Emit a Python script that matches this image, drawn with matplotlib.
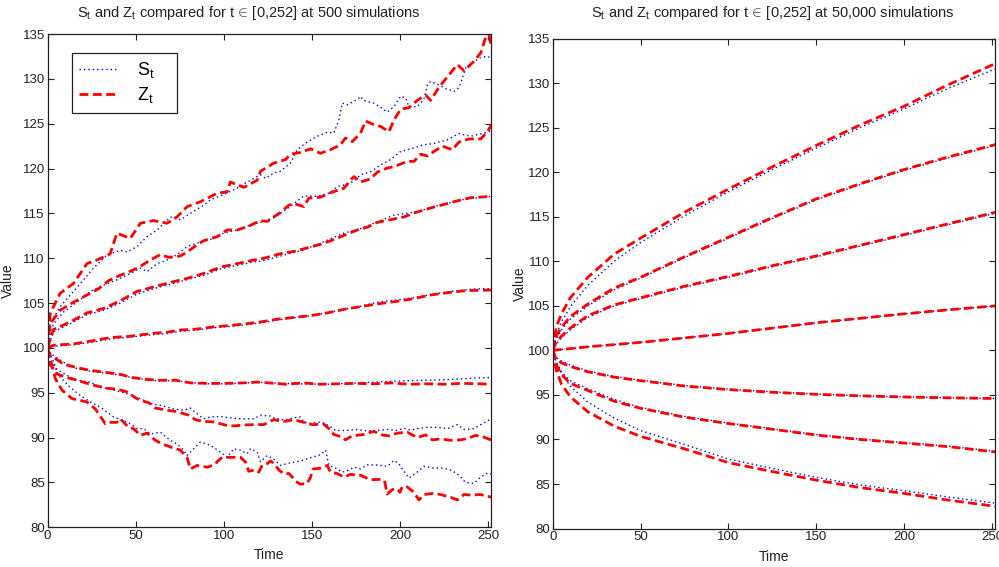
import matplotlib
matplotlib.use("Agg")
import matplotlib.pyplot as plt
import numpy as np
from matplotlib.lines import Line2D

plt.rcParams['font.family'] = ['Liberation Sans', 'DejaVu Sans']
plt.rcParams['mathtext.fontset'] = 'custom'
plt.rcParams['mathtext.rm'] = 'Liberation Sans'
plt.rcParams['mathtext.it'] = 'Liberation Sans'

# ---------------- Left panel: 500 simulations ----------------
s1_t = [0, 1.5, 7.2, 13.9, 20.5, 26.1, 33.7, 41.3, 45.1, 50.8, 56.5, 62.2, 69.7, 75.4, 81.1, 88.6, 92.4, 100, 107.6, 113.3, 120.9, 123.7, 128.4, 132.2, 137.9, 141.7, 147.4, 153.1, 158.8, 162.5, 165.4, 167.3, 170.1, 175.8, 177.7, 179.5, 185.2, 190, 192.8, 196.6, 200.4, 203.2, 205.1, 209.9, 213.6, 215.6, 217.4, 221.3, 226, 230.7, 233.5, 235.5, 237.3, 242, 245.9, 249.7, 252]
s1_v = [100, 102.7, 104.6, 106.1, 107.6, 108.9, 110.35, 110.9, 110.7, 111.3, 112.4, 113.15, 114.6, 114.3, 115.0, 115.9, 116.5, 117.1, 117.8, 118.5, 119.3, 118.9, 119.5, 119.7, 120.6, 122.1, 122.95, 123.6, 124.05, 123.95, 125.4, 127.3, 127.1, 127.7, 128.05, 127.6, 127.3, 126.7, 126.3, 126.9, 128.05, 127.9, 126.9, 126.9, 127.7, 129.3, 129.7, 129.4, 128.9, 128.6, 129.0, 130.1, 131.2, 131.9, 132.4, 132.5, 132.3]
z1_t = [0, 1.5, 3.4, 7.2, 14.8, 22.4, 28.1, 35.6, 39.4, 47, 52.7, 60.2, 67.8, 73.5, 79.2, 86.8, 96.3, 101.9, 103.8, 111.4, 119, 120.9, 128.4, 135.1, 137.9, 143.6, 149.3, 154.9, 160.6, 166.3, 169.1, 173, 177.7, 180.5, 185.2, 189, 193.8, 196.6, 200.4, 205.1, 209.9, 214.6, 217.4, 222.2, 226.9, 232.6, 236.4, 242, 245.9, 248.7, 250.6, 252]
z1_v = [100, 103.8, 104.6, 106.1, 107.2, 109.4, 109.8, 110.5, 112.8, 112.2, 113.9, 114.2, 113.9, 114.6, 115.75, 116.3, 117.25, 117.4, 118.5, 117.9, 118.7, 119.7, 120.6, 121.0, 121.6, 121.8, 122.2, 121.7, 122.1, 122.65, 123.4, 123.0, 123.95, 125.3, 124.9, 124.7, 124.1, 125.4, 126.6, 126.8, 127.6, 128.2, 127.6, 129.05, 130.2, 131.6, 130.9, 131.95, 132.9, 134.6, 134.9, 133.6]

s2_t = [0, 3.4, 9.1, 16.7, 24.3, 31.8, 39.4, 47, 52.7, 56.5, 62.2, 67.8, 73.5, 79.2, 86.8, 94.3, 100, 107.6, 115.2, 122.7, 129.4, 137.9, 145.5, 153.1, 160.6, 164.4, 167.3, 173.9, 177.7, 183.4, 189, 194.7, 200.4, 208, 213.6, 219.3, 226.9, 233.5, 240.2, 247.7, 252]
s2_v = [100, 102.7, 104.0, 105.1, 106.3, 107.0, 107.6, 108.3, 108.9, 108.5, 109.4, 109.8, 110.4, 111.3, 111.8, 112.2, 112.8, 113.15, 113.7, 114.1, 114.6, 115.8, 116.95, 116.9, 117.3, 118.0, 118.1, 118.6, 119.3, 119.65, 120.4, 121.0, 121.9, 122.3, 122.65, 122.8, 123.2, 123.9, 123.6, 123.95, 124.2]
z2_t = [0, 1.5, 7.2, 14.8, 22.4, 29, 34.7, 41.3, 48.9, 52.7, 58.4, 64, 68.8, 75.4, 79.2, 84.9, 88.6, 96.3, 101.9, 107.6, 113.3, 120.9, 124.7, 128.4, 132.2, 136.9, 139.8, 145.5, 148.3, 154.9, 160.6, 168.2, 172, 173.9, 177.7, 183.4, 187.2, 192.8, 196.6, 204.2, 208, 211.8, 215.6, 219.3, 224.1, 229.8, 233.5, 239.2, 245.9, 249.7, 252]
z2_v = [100, 102.7, 104.2, 105.1, 105.9, 106.6, 107.5, 108.1, 108.7, 109.1, 109.8, 110.4, 110.1, 110.25, 110.7, 111.5, 111.95, 112.4, 113.15, 113.15, 113.5, 114.2, 114.1, 114.6, 115.1, 115.9, 116.1, 115.75, 116.7, 116.8, 117.3, 117.8, 118.7, 119.1, 118.5, 118.85, 119.6, 120.05, 120.2, 120.8, 120.8, 121.6, 121.4, 121.9, 122.5, 122.1, 122.95, 123.3, 123.3, 124.1, 124.9]

s3_t = [0, 3.4, 12.9, 22.4, 31.8, 41.3, 50.8, 60.2, 69.7, 79.2, 88.6, 98.1, 107.6, 117.1, 120.9, 134.1, 145, 158.7, 168.2, 177.7, 185.2, 196.6, 204.2, 211.8, 219.3, 226.9, 234.5, 242, 252]
s3_v = [100, 101.8, 102.7, 103.7, 104.2, 105.0, 106.0, 106.6, 107.1, 107.6, 108.1, 108.8, 109.2, 109.6, 109.65, 110.35, 110.9, 112.0, 112.8, 113.3, 113.9, 114.8, 115.0, 115.3, 115.75, 116.1, 116.5, 116.7, 116.9]
z3_t = [0, 3.4, 12.9, 22.4, 31.8, 41.3, 50.8, 60.2, 69.7, 79.2, 88.6, 98.1, 107.6, 117.1, 120.9, 132.2, 140.7, 148.3, 155.8, 163.4, 170.1, 175.8, 181.4, 187.1, 194.7, 202.3, 208.9, 217.4, 225, 232.6, 240.2, 252]
z3_v = [100, 102.05, 102.9, 103.9, 104.4, 105.25, 106.3, 106.8, 107.3, 107.75, 108.3, 109.0, 109.4, 109.8, 109.9, 110.5, 110.8, 111.2, 111.6, 112.15, 112.7, 113.15, 113.45, 114.0, 114.3, 114.6, 115.1, 115.6, 116.0, 116.4, 116.75, 116.9]

s4_t = [0, 3.4, 14.8, 24.3, 35.6, 47, 58.4, 67.8, 75.4, 84.9, 94.3, 103.8, 113.3, 122.7, 130.3, 139.8, 149.3, 158.7, 168.2, 177.7, 187.1, 198.5, 208, 217.4, 228.8, 238.3, 244, 252]
s4_v = [100, 100.2, 100.35, 100.6, 101.0, 101.2, 101.45, 101.6, 101.85, 102.0, 102.25, 102.4, 102.6, 102.85, 103.1, 103.35, 103.6, 103.9, 104.3, 104.65, 105.1, 105.35, 105.6, 105.95, 106.3, 106.5, 106.6, 106.6]
z4_t = [0, 3.4, 14.8, 24.3, 35.6, 47, 58.4, 67.8, 75.4, 84.9, 94.3, 103.8, 113.3, 122.7, 130.3, 139.8, 149.3, 158.7, 168.2, 177.7, 187.1, 198.5, 208, 217.4, 228.8, 238.3, 252]
z4_v = [100, 100.3, 100.45, 100.75, 101.15, 101.3, 101.6, 101.75, 102.0, 102.1, 102.35, 102.5, 102.7, 102.95, 103.2, 103.4, 103.6, 103.9, 104.3, 104.6, 104.9, 105.2, 105.5, 105.9, 106.2, 106.4, 106.45]

s5_t = [0, 1.5, 9.1, 16.7, 24.3, 31.8, 40.4, 47.9, 55.5, 63.1, 72.6, 81.1, 90.6, 101.9, 111.4, 120.9, 140, 158.7, 177.7, 187.1, 196.6, 206, 215.6, 225, 234.5, 244, 252]
s5_v = [100, 99.4, 98.4, 97.7, 97.4, 97.2, 97.0, 96.7, 96.5, 96.3, 96.35, 96.15, 96.0, 96.0, 96.1, 96.15, 96.0, 95.95, 96.1, 96.2, 96.3, 96.35, 96.4, 96.45, 96.55, 96.65, 96.7]
z5_t = [0, 1.5, 9.1, 16.7, 24.3, 31.8, 40.4, 47.9, 55.5, 63.1, 72.6, 81.1, 90.6, 101.9, 111.4, 119, 125.6, 135, 145, 155, 165, 175, 185, 195, 205, 215, 225, 235, 245, 252]
z5_v = [100, 99.2, 98.2, 97.8, 97.5, 97.3, 97.1, 96.7, 96.5, 96.4, 96.4, 96.1, 96.05, 96.05, 96.1, 96.2, 96.1, 95.95, 96.1, 95.95, 96.0, 96.05, 96.0, 96.1, 95.95, 96.0, 95.95, 96.05, 96.0, 95.95]

s6_t = [0, 5.3, 11, 16.7, 24.3, 29.9, 37.5, 45.1, 52.7, 58.4, 64, 71.6, 77.3, 81.1, 84.9, 88.6, 92.4, 98.1, 103.8, 109.5, 117.1, 120.9, 126.5, 128.4, 134.1, 139.8, 143.6, 145.5, 149.3, 155, 159.7, 163.5, 170.1, 175.8, 181.4, 187.1, 192.8, 198.5, 202.3, 206, 211.8, 215.6, 221.3, 227, 232.6, 236.4, 242, 246.8, 252]
s6_v = [100, 97.6, 96.95, 96.4, 96.2, 95.65, 95.3, 94.9, 94.35, 93.8, 93.6, 93.2, 93.05, 93.3, 92.65, 92.1, 92.3, 92.35, 92.2, 92.1, 92.1, 92.5, 92.4, 92.2, 91.95, 92.2, 92.3, 91.7, 91.6, 91.75, 91.35, 90.8, 90.8, 90.9, 90.75, 90.8, 90.9, 90.8, 91.05, 90.85, 91.05, 91.15, 91.15, 91.0, 91.45, 90.9, 91.0, 91.55, 92.1]
z6_t = [0, 0.6, 5.3, 11, 16.7, 22.4, 28.1, 33.7, 39.4, 45.1, 49.8, 52.7, 57.4, 61.2, 67.8, 73.5, 80.1, 83.9, 88.6, 94.3, 100.9, 105.7, 111.4, 117.1, 122.7, 128.4, 134.1, 139.8, 145.5, 150.2, 156.8, 159.7, 162.5, 167.3, 169.1, 172.9, 179.5, 185.2, 190, 193.8, 198.5, 204.2, 209.9, 214.6, 218.4, 223.1, 228.8, 234.5, 238.3, 243, 247.8, 252]
z6_v = [100, 98.4, 97.1, 96.7, 96.4, 96.05, 95.75, 95.5, 95.4, 95.1, 94.45, 94.15, 93.9, 93.3, 93.05, 92.9, 92.5, 92.0, 91.8, 91.75, 91.4, 91.3, 91.4, 91.45, 91.45, 92.0, 91.8, 92.0, 91.7, 91.45, 91.5, 91.0, 90.35, 90.05, 89.75, 90.2, 90.35, 90.7, 90.3, 90.2, 90.5, 90.6, 90.0, 90.3, 89.75, 89.85, 89.7, 89.75, 89.9, 90.25, 90.05, 89.7]

s7_t = [0, 1.5, 7.2, 12.9, 18.6, 24.3, 29.9, 37.5, 43.2, 47, 50.8, 54.6, 58.4, 64, 69.7, 73.5, 77.3, 79.2, 82.9, 86.8, 90.6, 94.3, 98.1, 101.9, 105.7, 109.5, 113.3, 115.2, 119, 120.9, 124.7, 128.4, 132.2, 137.9, 143.6, 149.3, 155, 157.8, 159.7, 163.5, 167.3, 170.1, 173.9, 177.7, 181.4, 187.1, 192.8, 196.6, 199.4, 202.3, 205.1, 208.9, 213.7, 219.3, 225, 229.8, 233.5, 237.3, 242, 245.9, 249.7, 252]
s7_v = [100, 98.8, 96.75, 95.6, 94.7, 93.97, 93.4, 92.3, 91.9, 91.55, 91.0, 91.0, 90.4, 90.6, 89.7, 89.3, 88.6, 88.0, 88.75, 89.5, 89.3, 88.9, 88.4, 87.8, 88.75, 88.6, 88.2, 88.75, 88.4, 87.3, 88.0, 87.6, 86.9, 87.2, 87.4, 87.75, 88.1, 88.6, 86.9, 86.6, 86.15, 86.3, 86.7, 86.5, 86.95, 86.95, 86.8, 87.45, 87.1, 86.25, 85.5, 86.0, 86.8, 86.6, 86.6, 86.3, 85.8, 85.0, 84.9, 85.6, 86.05, 85.95]
z7_t = [0, 4.4, 8.2, 13.9, 18.6, 22.4, 27.1, 32.8, 34.7, 39.4, 41.3, 46, 48.9, 52.7, 56.5, 61.2, 65, 70.7, 75.4, 79.2, 81.1, 84.9, 90.6, 95.3, 96.2, 99.1, 103.8, 109.5, 112.3, 114.2, 118, 119.9, 121.8, 124.7, 126.5, 128.4, 131.3, 134.1, 137, 138.9, 140.7, 143.6, 147.4, 149.3, 150.8, 155, 158.8, 160.6, 164.4, 168.2, 172, 177.7, 183.4, 189, 191.3, 192.8, 195.7, 198.5, 200, 201.4, 204.2, 208, 210.8, 213.7, 219.3, 223.1, 228.8, 232.6, 236.4, 240.2, 245.9, 252]
z7_v = [100, 96.6, 95.3, 94.35, 94.15, 93.97, 93.2, 91.55, 91.7, 91.7, 92.1, 91.15, 91.0, 90.25, 90.5, 89.7, 89.3, 88.9, 88.6, 87.8, 86.5, 86.9, 86.7, 87.0, 87.3, 87.8, 87.8, 87.8, 87.3, 86.25, 86.4, 86.15, 86.9, 87.1, 87.4, 87.15, 86.4, 85.95, 86.0, 85.6, 85.15, 84.8, 84.9, 85.6, 86.5, 86.6, 86.9, 86.15, 86.0, 85.6, 85.9, 85.8, 85.3, 85.35, 85.2, 83.7, 84.2, 84.3, 83.9, 84.55, 84.5, 83.9, 83.05, 83.65, 83.8, 83.65, 83.35, 83.05, 83.65, 83.6, 83.65, 83.35]

# ---------------- Right panel: 50,000 simulations ----------------
r_t = [0, 2, 5, 10, 20, 35, 50, 75, 100, 125, 150, 175, 200, 225, 252]
rs1 = [100, 101.8, 103.2, 104.9, 107.3, 110.0, 112.1, 115.1, 117.8, 120.3, 122.7, 125.0, 127.1, 129.4, 131.6]
rz1 = [100, 102.6, 104.1, 105.9, 108.2, 110.8, 112.6, 115.5, 118.1, 120.6, 123.0, 125.3, 127.4, 129.8, 132.2]
rs2 = [100, 101.3, 102.3, 103.5, 105.0, 106.8, 108.1, 110.4, 112.6, 114.8, 116.9, 118.6, 120.2, 121.6, 123.0]
rz2 = [100, 101.6, 102.6, 103.8, 105.2, 107.0, 108.2, 110.5, 112.7, 114.9, 117.0, 118.7, 120.3, 121.7, 123.1]
rs3 = [100, 100.7, 101.4, 102.3, 103.7, 105.0, 105.8, 107.1, 108.2, 109.4, 110.5, 111.7, 112.9, 114.1, 115.4]
rz3 = [100, 100.9, 101.6, 102.5, 103.9, 105.1, 105.9, 107.2, 108.3, 109.5, 110.6, 111.8, 113.0, 114.2, 115.5]
rs4 = [100, 100.05, 100.1, 100.2, 100.4, 100.65, 100.9, 101.4, 101.9, 102.5, 103.1, 103.6, 104.1, 104.55, 105.0]
rz4 = [100, 100.05, 100.1, 100.2, 100.4, 100.65, 100.9, 101.4, 101.9, 102.5, 103.1, 103.6, 104.1, 104.55, 105.0]
rs5 = [100, 99.2, 98.8, 98.35, 97.7, 97.05, 96.65, 96.05, 95.65, 95.35, 95.1, 94.9, 94.78, 94.68, 94.6]
rz5 = [100, 99.0, 98.6, 98.2, 97.6, 97.0, 96.6, 96.0, 95.6, 95.3, 95.07, 94.9, 94.77, 94.68, 94.6]
rs6 = [100, 98.7, 97.6, 96.6, 95.7, 94.5, 93.6, 92.6, 91.85, 91.2, 90.55, 90.05, 89.65, 89.25, 88.65]
rz6 = [100, 98.4, 97.3, 96.3, 95.5, 94.3, 93.5, 92.5, 91.79, 91.15, 90.5, 90.0, 89.6, 89.2, 88.6]
rs7 = [100, 98.6, 97.4, 96.0, 94.2, 92.4, 91.0, 89.45, 87.8, 86.75, 85.75, 84.9, 84.25, 83.55, 82.85]
rz7 = [100, 97.8, 96.2, 94.8, 93.1, 91.5, 90.35, 88.95, 87.4, 86.4, 85.44, 84.6, 83.95, 83.2, 82.5]

y_ticks = [80, 85, 90, 95, 100, 105, 110, 115, 120, 125, 130, 135]
x_ticks = [0, 50, 100, 150, 200, 250]
titles = [r'S$_\mathregular{t}$ and Z$_\mathregular{t}$ compared for t$\,\in\,$[0,252] at 500 simulations',
          r'S$_\mathregular{t}$ and Z$_\mathregular{t}$ compared for t$\,\in\,$[0,252] at 50,000 simulations']
legend_labels = [r'S$_\mathregular{t}$    ', r'Z$_\mathregular{t}$    ']

left_S = [(s1_t, s1_v), (s2_t, s2_v), (s3_t, s3_v), (s4_t, s4_v), (s5_t, s5_v), (s6_t, s6_v), (s7_t, s7_v)]
left_Z = [(z1_t, z1_v), (z2_t, z2_v), (z3_t, z3_v), (z4_t, z4_v), (z5_t, z5_v), (z6_t, z6_v), (z7_t, z7_v)]
right_S = [rs1, rs2, rs3, rs4, rs5, rs6, rs7]
right_Z = [rz1, rz2, rz3, rz4, rz5, rz6, rz7]

fig = plt.figure(figsize=(9.99, 5.67), dpi=100)
W, H = 999.0, 567.0
ax1 = fig.add_axes([47.5 / W, 1 - 527.3 / H, (491.5 - 47.5) / W, (527.3 - 34) / H])
ax2 = fig.add_axes([552.7 / W, 1 - 528.6 / H, (995.5 - 552.7) / W, (528.6 - 38.5) / H])

blue_style = dict(color='#0000ff', linewidth=1.0, linestyle=(0, (1, 2.2)))
red_style = dict(color='#ff0000', linewidth=2.0, linestyle=(0, (3.2, 1.6)))

for (t, v) in left_S:
    ax1.plot(t, v, **blue_style)
for (t, v) in left_Z:
    ax1.plot(t, v, **red_style)
for v in right_S:
    ax2.plot(r_t, v, **blue_style)
for v in right_Z:
    ax2.plot(r_t, v, **red_style)

for ax in [ax1, ax2]:
    ax.set_xlim(0, 252)
    ax.set_ylim(80, 135)
    ax.set_xticks(x_ticks)
    ax.set_yticks(y_ticks)
    ax.tick_params(direction='in', top=True, right=True, length=4, width=0.8,
                   labelsize=9.5, pad=2, colors='#222222', labelcolor='#222222')
    for sp in ax.spines.values():
        sp.set_linewidth(0.9)
        sp.set_color('#222222')
    ax.set_ylabel('Value', fontsize=10, color='#222222')

ax1.set_xlabel('Time', fontsize=10, labelpad=4, color='#222222')
ax2.set_xlabel('Time', fontsize=10, labelpad=5, color='#222222')

# titles (placed like the reference)
fig.text(249 / W, 1 - 17 / H, titles[0], ha='center', va='baseline', fontsize=10.5, color='#222222')
fig.text(773 / W, 1 - 17 / H, titles[1], ha='center', va='baseline', fontsize=10.5, color='#222222')

ax1.yaxis.set_label_coords(-0.073, 0.5)
ax2.yaxis.set_label_coords(-0.058, 0.5)

handles = [Line2D([], [], **blue_style), Line2D([], [], **red_style)]
leg = ax1.legend(handles, legend_labels, loc='upper left',
                 bbox_to_anchor=(0.055, 0.962), fontsize=13, frameon=True, fancybox=False,
                 framealpha=1, edgecolor='#222222', handlelength=2.2, borderpad=0.4,
                 labelspacing=0.3, handletextpad=1.0, borderaxespad=0)
leg.get_frame().set_linewidth(0.9)

fig.savefig('out.png', dpi=100)
